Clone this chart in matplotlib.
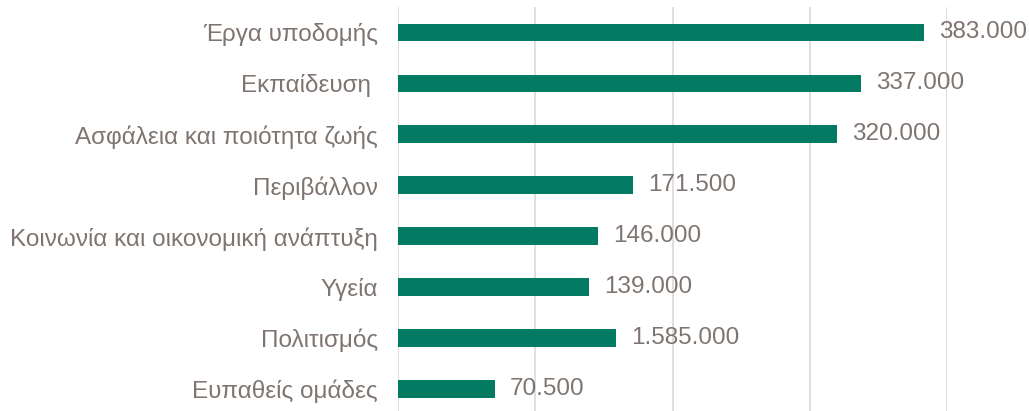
import matplotlib
matplotlib.use('Agg')
import matplotlib.pyplot as plt
import numpy as np

# categories (top to bottom) and values in thousands
categories = ['Έργα υποδομής', 'Εκπαίδευση ', 'Ασφάλεια και ποιότητα ζωής', 'Περιβάλλον',
              'Κοινωνία και οικονομική ανάπτυξη', 'Υγεία', 'Πολιτισμός', 'Ευπαθείς ομάδες']
values = [383, 337, 320, 171.5, 146, 139, 158.5, 70.5]
value_labels = ['383.000', '337.000', '320.000', '171.500', '146.000', '139.000',
                '1.585.000', '70.500']

bar_color = '#037A62'
text_color = '#7F7570'
grid_color = '#D9D9D9'

plt.rcParams['font.family'] = ['Liberation Sans', 'DejaVu Sans']

fig = plt.figure(figsize=(10.29, 4.11), dpi=100)
ax = fig.add_axes([398 / 1029, 0, (947 - 398) / 1029, 1 - 7 / 411])

y_pos = np.arange(len(categories))
bars = ax.barh(y_pos, values, height=0.35, color=bar_color, zorder=3)

# value labels right of each bar
for rect, lab in zip(bars, value_labels):
    ax.text(rect.get_width() + 11, rect.get_y() + rect.get_height() / 2, lab,
            ha='left', va='center', fontsize=17.5, color=text_color)

ax.set_xlim(0, 400)
ax.set_ylim(7.43, -0.5)
ax.set_xticks([0, 100, 200, 300, 400])
ax.set_xticklabels([])
ax.set_yticks(y_pos)
ax.set_yticklabels(categories, fontsize=17.5, color=text_color)
ax.tick_params(axis='both', length=0)
ax.tick_params(axis='y', pad=14.4)
ax.grid(axis='x', color=grid_color, linewidth=1.2, zorder=0)
for s in ax.spines.values():
    s.set_visible(False)

fig.savefig('out.png', dpi=100)
